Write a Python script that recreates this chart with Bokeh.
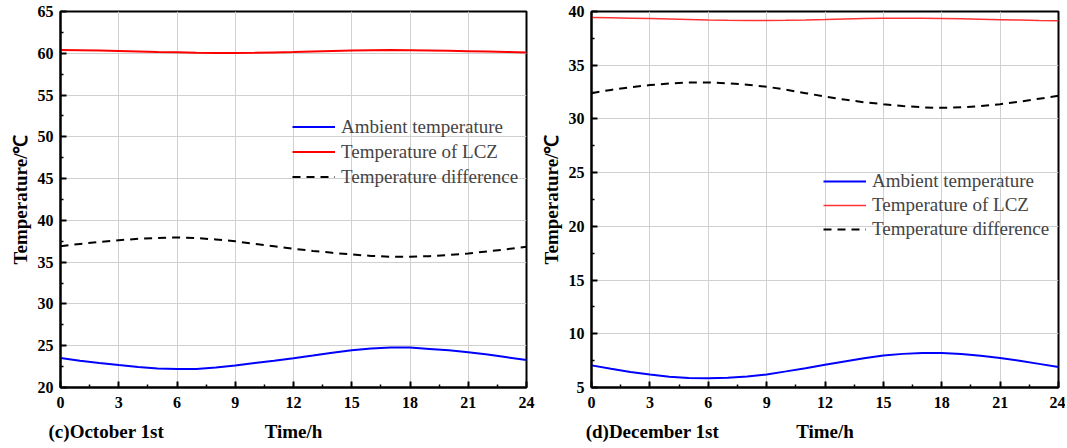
from bokeh.plotting import figure
from bokeh.layouts import row
from bokeh.models import FixedTicker, Range1d, Legend, LegendItem, LinearAxis
from bokeh.embed import file_html
from bokeh.resources import INLINE

hours = list(range(25))

# (c) October 1st
oct_ambient = [23.52, 23.2, 22.93, 22.68, 22.45, 22.28, 22.2, 22.22, 22.38, 22.64, 22.92, 23.2, 23.5,
               23.82, 24.15, 24.45, 24.68, 24.8, 24.78, 24.62, 24.45, 24.22, 23.95, 23.62, 23.28]
oct_lcz = [60.4, 60.36, 60.32, 60.27, 60.22, 60.16, 60.12, 60.07, 60.04, 60.03, 60.05, 60.1, 60.15,
           60.22, 60.28, 60.33, 60.37, 60.38, 60.37, 60.34, 60.3, 60.25, 60.2, 60.15, 60.1]
oct_diff = [36.9, 37.18, 37.42, 37.62, 37.8, 37.9, 37.95, 37.88, 37.72, 37.5, 37.2, 36.9, 36.6,
            36.35, 36.12, 35.92, 35.75, 35.65, 35.65, 35.72, 35.85, 36.05, 36.28, 36.55, 36.84]

# (d) December 1st
dec_ambient = [7.06, 6.75, 6.45, 6.2, 6.0, 5.88, 5.85, 5.9, 6.02, 6.22, 6.5, 6.8, 7.12,
               7.42, 7.72, 7.97, 8.13, 8.22, 8.22, 8.12, 7.95, 7.74, 7.5, 7.2, 6.9]
dec_lcz = [39.45, 39.42, 39.38, 39.34, 39.3, 39.26, 39.22, 39.19, 39.17, 39.16, 39.18, 39.21, 39.25,
           39.3, 39.34, 39.37, 39.38, 39.37, 39.35, 39.32, 39.28, 39.24, 39.2, 39.16, 39.13]
dec_diff = [32.4, 32.7, 32.95, 33.15, 33.3, 33.4, 33.4, 33.32, 33.18, 33.0, 32.72, 32.4, 32.08,
            31.8, 31.55, 31.37, 31.2, 31.08, 31.03, 31.08, 31.2, 31.37, 31.6, 31.88, 32.15]

x_ticks = [0, 3, 6, 9, 12, 15, 18, 21, 24]
oct_y_ticks = [20, 25, 30, 35, 40, 45, 50, 55, 60, 65]
dec_y_ticks = [5, 10, 15, 20, 25, 30, 35, 40]
series_names = ["Ambient temperature", "Temperature of LCZ", "Temperature difference"]
x_title = "Time/h"
y_title = "Temperature/℃"

FONT = "Liberation Serif"


def make_panel(ambient, lcz, diff, yticks, tag, tag_x, width, mbl, mbr,
               leg_loc, leg_h, red, red_w):
    p = figure(width=width, height=448, output_backend="svg", toolbar_location=None,
               x_range=Range1d(0, 24), y_range=Range1d(yticks[0], yticks[-1]),
               min_border_left=mbl, min_border_right=mbr, min_border_top=11, min_border_bottom=61)
    p.outline_line_color = "black"
    p.outline_line_width = 2
    p.outline_line_alpha = 1
    xminor = [t + 1.5 for t in x_ticks[:-1]]
    yminor = [t + 2.5 for t in yticks[:-1]]
    p.xaxis.ticker = FixedTicker(ticks=x_ticks, minor_ticks=xminor)
    p.yaxis.ticker = FixedTicker(ticks=yticks, minor_ticks=yminor)
    for ax in (p.xaxis, p.yaxis):
        ax.axis_line_width = 2
        ax.major_tick_in = 6
        ax.major_tick_out = 0
        ax.minor_tick_in = 3
        ax.minor_tick_out = 0
        ax.major_tick_line_width = 2
        ax.minor_tick_line_width = 1.5
        ax.major_label_text_font = FONT
        ax.major_label_text_font_style = "bold"
        ax.major_label_text_font_size = "16px"
        ax.major_label_text_color = "black"
        ax.axis_label_text_font = FONT
        ax.axis_label_text_font_style = "bold"
        ax.axis_label_text_font_size = "19px"
        ax.axis_label_text_color = "black"
    p.yaxis.axis_label = y_title
    p.xaxis.major_label_standoff = 9
    p.yaxis.major_label_standoff = 7
    p.yaxis.axis_label_standoff = 4
    p.grid.grid_line_color = "#d0d0d0"
    p.grid.grid_line_width = 1

    # second row under the tick labels: panel tag and the x title on one line
    ax2 = LinearAxis(ticker=FixedTicker(ticks=[tag_x, 12], minor_ticks=[]),
                     major_label_overrides={tag_x: tag, 12: x_title},
                     axis_line_color=None, major_tick_line_color=None, minor_tick_line_color=None,
                     major_tick_in=0, major_tick_out=0, minor_tick_in=0, minor_tick_out=0,
                     major_label_standoff=10,
                     major_label_text_font=FONT, major_label_text_font_style="bold",
                     major_label_text_font_size="19px", major_label_text_color="black")
    p.add_layout(ax2, "below")

    r1 = p.line(hours, ambient, line_color="#0000ff", line_width=2)
    r2 = p.line(hours, lcz, line_color=red, line_width=red_w)
    r3 = p.line(hours, diff, line_color="black", line_width=2, line_dash="8 6")

    legend = Legend(items=[LegendItem(label=series_names[0], renderers=[r1]),
                           LegendItem(label=series_names[1], renderers=[r2]),
                           LegendItem(label=series_names[2], renderers=[r3])],
                    location=leg_loc, padding=0, margin=0, spacing=0,
                    glyph_width=43, glyph_height=leg_h, label_height=leg_h, label_standoff=6,
                    label_text_font=FONT, label_text_font_size="19px",
                    border_line_color=None, background_fill_alpha=0)
    p.add_layout(legend, "center")
    return p


p1 = make_panel(oct_ambient, oct_lcz, oct_diff, oct_y_ticks, "(c)October 1st", 2.36,
                537, 60, 11, (232, 198), 25, "#ff0000", 2)
p2 = make_panel(dec_ambient, dec_lcz, dec_diff, dec_y_ticks, "(d)December 1st", 3.13,
                528, 54, 7, (232, 146), 24, "#ff3333", 1.5)

layout = row(p1, p2)
open("out.html", "w").write(file_html(layout, INLINE))
